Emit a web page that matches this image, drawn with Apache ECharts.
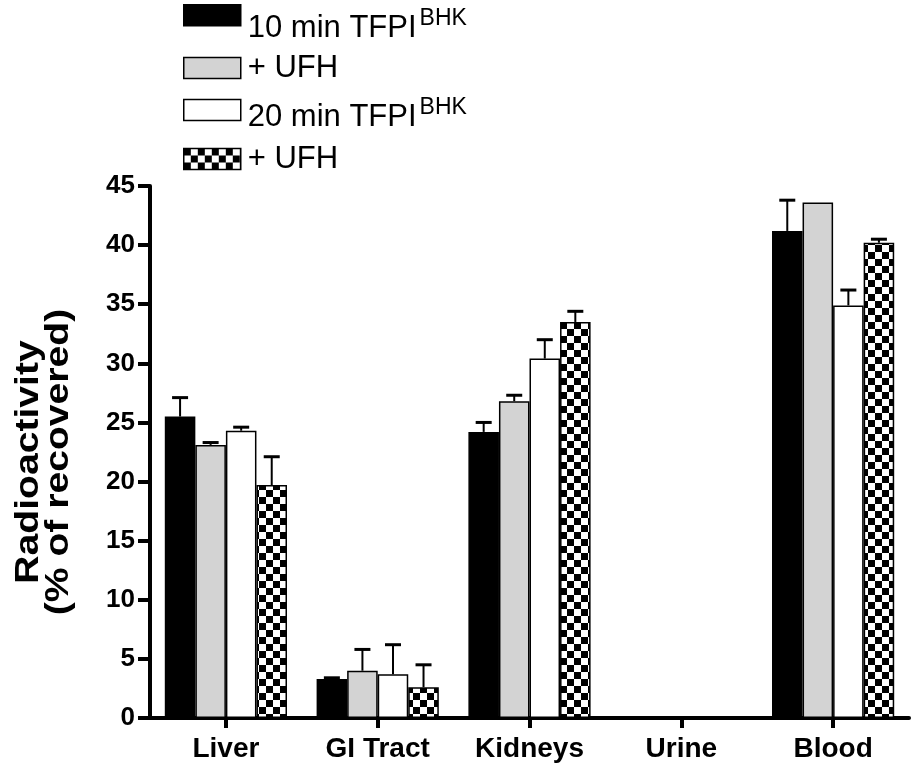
<!DOCTYPE html>
<html>
<head>
<meta charset="utf-8">
<script src="https://cdn.jsdelivr.net/npm/echarts@6/dist/echarts.min.js"></script>
<style>
html,body{margin:0;padding:0;background:#fff;}
#chart{width:917px;height:765px;}
</style>
</head>
<body>
<div id="chart"></div>
<script>
// ---- data ----
const categories = ['Liver', 'GI Tract', 'Kidneys', 'Urine', 'Blood'];
const seriesNames = ['10 min TFPI BHK', '10 min + UFH', '20 min TFPI BHK', '20 min + UFH'];
const legendMain = ['10 min TFPI', '+ UFH', '20 min TFPI', '+ UFH'];
const legendSup = ['BHK', '', 'BHK', ''];
const yTitleLines = ['Radioactivity', '(% of recovered)'];
const tfpi10 = [25.5, 3.3, 24.2, 0, 41.2];
const tfpi10Err = [1.6, 0.1, 0.8, 0, 2.6];
const ufh10 = [23.1, 4.0, 26.8, 0, 43.6];
const ufh10Err = [0.2, 1.8, 0.5, 0, 0];
const tfpi20 = [24.3, 3.7, 30.4, 0.02, 34.9];
const tfpi20Err = [0.3, 2.5, 1.6, 0, 1.3];
const ufh20 = [19.7, 2.6, 33.5, 0.12, 40.2];
const ufh20Err = [2.4, 1.9, 0.9, 0, 0.3];
const yTicks = [0, 5, 10, 15, 20, 25, 30, 35, 40, 45];

const values = [tfpi10, ufh10, tfpi20, ufh20];
const errors = [tfpi10Err, ufh10Err, tfpi20Err, ufh20Err];

// ---- styles ----
const FONT = '"Liberation Sans", Arial, Helvetica, sans-serif';
const CAT_GAP = 0.195;

function checker() {
  const c = document.createElement('canvas');
  const s = 7;
  c.width = 2 * s; c.height = 2 * s;
  const ctx = c.getContext('2d');
  ctx.fillStyle = '#fff';
  ctx.fillRect(0, 0, 2 * s, 2 * s);
  ctx.fillStyle = '#000';
  ctx.fillRect(0, 0, s, s);
  ctx.fillRect(s, s, s, s);
  return c;
}
const fills = ['#000000', '#d3d3d3', '#ffffff', { image: checker(), repeat: 'repeat' }];

const chart = echarts.init(document.getElementById('chart'), null, { renderer: 'canvas' });

const barSeries = seriesNames.map((name, i) => ({
  name: name,
  type: 'bar',
  data: values[i],
  barGap: '0%',
  barCategoryGap: (CAT_GAP * 100) + '%',
  itemStyle: { color: fills[i], borderColor: '#000', borderWidth: 1.5 },
  emphasis: { disabled: true },
  animation: false,
  z: 2
}));

const errData = [];
errors.forEach((arr, si) => {
  arr.forEach((e, ci) => { errData.push([ci, values[si][ci], e, si]); });
});

const errSeries = {
  type: 'custom',
  name: 'err',
  data: errData,
  z: 5,
  animation: false,
  silent: true,
  encode: { x: 0, y: 1 },
  renderItem: function (params, api) {
    const ci = api.value(0), v = api.value(1), e = api.value(2), si = api.value(3);
    if (!(e > 0)) return null;
    const band = api.size([1, 0])[0];
    const bw = band * (1 - CAT_GAP) / 4;
    const base = api.coord([ci, v]);
    const top = api.coord([ci, v + e]);
    const x = base[0] + (si - 1.5) * bw;
    return {
      type: 'group',
      children: [
        { type: 'line', shape: { x1: x, y1: base[1], x2: x, y2: top[1] }, style: { stroke: '#000', lineWidth: 2 } },
        { type: 'line', shape: { x1: x - 8, y1: top[1], x2: x + 8, y2: top[1] }, style: { stroke: '#000', lineWidth: 3 } }
      ]
    };
  }
};

const legendTops = [4, 53, 96, 144];
const legendPad = [[25, 0, 0, 2], [0, 0, 0, 2], [14, 0, 0, 2], [0, 0, 0, 2]];
const legends = seriesNames.map((name, i) => ({
  data: [name],
  left: 183,
  top: legendTops[i],
  orient: 'vertical',
  icon: 'rect',
  itemWidth: 57,
  itemHeight: 21,
  selectedMode: false,
  padding: 0,
  itemStyle: { borderColor: '#000', borderWidth: 1.5 },
  formatter: function () {
    return legendSup[i] ? '{a|' + legendMain[i] + '}{s|' + legendSup[i] + '}' : '{a|' + legendMain[i] + '}';
  },
  textStyle: {
    fontFamily: FONT,
    color: '#000',
    padding: legendPad[i],
    rich: {
      a: { fontSize: 31, fontFamily: FONT, color: '#000', verticalAlign: 'bottom', lineHeight: 32 },
      s: { fontSize: 23, fontFamily: FONT, color: '#000', verticalAlign: 'bottom', padding: [0, 0, 14, 3], lineHeight: 23 }
    }
  }
}));

// y-axis title (the reference draws it slightly stretched along its length)
const titleX = [29, 59];
const titleGraphic = yTitleLines.map((t, i) => ({
  type: 'text',
  x: titleX[i],
  y: 462,
  rotation: Math.PI / 2,
  scaleX: 1.15,
  silent: true,
  style: {
    text: t,
    fill: '#000',
    font: 'bold 34px ' + FONT,
    textAlign: 'center',
    textVerticalAlign: 'middle'
  }
}));

chart.setOption({
  backgroundColor: '#fff',
  animation: false,
  legend: legends,
  graphic: titleGraphic,
  grid: { left: 150, right: 8, top: 186, bottom: 47, containLabel: false, outerBoundsMode: 'none' },
  xAxis: {
    type: 'category',
    data: categories,
    boundaryGap: true,
    axisLine: { show: true, lineStyle: { color: '#000', width: 4 } },
    axisTick: { show: true, alignWithLabel: true, length: 10, lineStyle: { color: '#000', width: 4 } },
    axisLabel: { color: '#000', fontFamily: FONT, fontWeight: 'bold', fontSize: 28, margin: 17 },
    splitLine: { show: false }
  },
  yAxis: {
    type: 'value',
    min: yTicks[0],
    max: yTicks[yTicks.length - 1],
    interval: yTicks[1] - yTicks[0],
    axisLine: { show: true, lineStyle: { color: '#000', width: 4 } },
    axisTick: { show: true, length: 12, lineStyle: { color: '#000', width: 4 } },
    axisLabel: { color: '#000', fontFamily: FONT, fontWeight: 'bold', fontSize: 26, margin: 15 },
    splitLine: { show: false }
  },
  series: barSeries.concat([errSeries])
});
</script>
</body>
</html>
